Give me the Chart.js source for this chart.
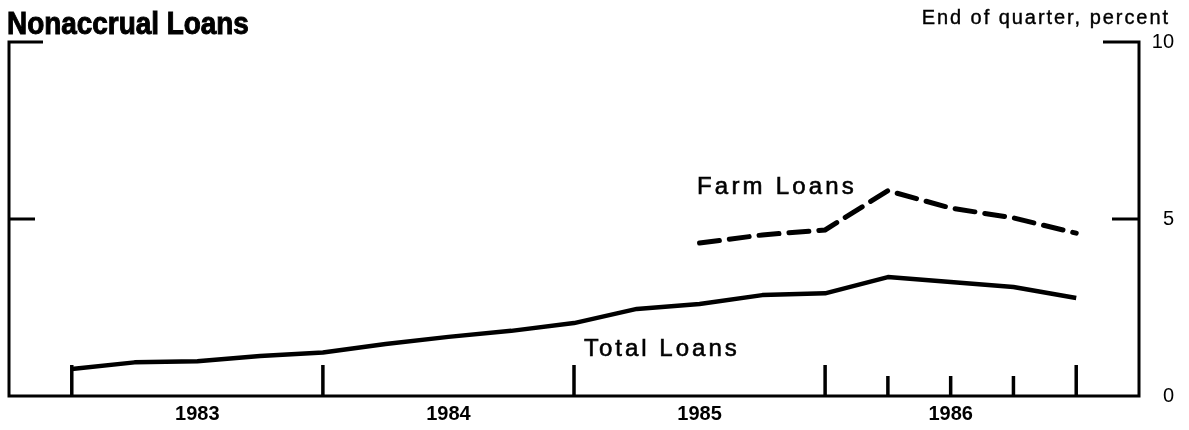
<!DOCTYPE html>
<html>
<head>
<meta charset="utf-8">
<script src="https://cdn.jsdelivr.net/npm/chart.js@4.4.1/dist/chart.umd.min.js"></script>
<style>
  html, body { margin: 0; padding: 0; background: #fff; }
  #wrap { position: relative; width: 1189px; height: 430px; overflow: hidden; }
  #wrap canvas { position: absolute; left: 0; top: 0; }
  .txt { position: absolute; white-space: nowrap; color: #000; line-height: 1; }
  #title { left: 7px; top: 6px; font: bold 31px "Liberation Sans", Arial, sans-serif; transform: scaleX(0.9); transform-origin: left top; -webkit-text-stroke: 1px #000; }
  #unit { right: 19px; top: 6px; font: 20px "Liberation Sans", Arial, sans-serif; letter-spacing: 1.95px; -webkit-text-stroke: 0.4px #000; }
  #farm { left: 697px; top: 172px; font: 24px "Liberation Sans", Arial, sans-serif; letter-spacing: 3.2px; -webkit-text-stroke: 0.6px #000; }
  #total { left: 584px; top: 334px; font: 24px "Liberation Sans", Arial, sans-serif; letter-spacing: 3px; -webkit-text-stroke: 0.6px #000; }
</style>
</head>
<body>
<div id="wrap">
  <canvas id="c" width="1189" height="430"></canvas>
  <div class="txt" id="title">Nonaccrual Loans</div>
  <div class="txt" id="unit">End of quarter, percent</div>
  <div class="txt" id="farm">Farm Loans</div>
  <div class="txt" id="total">Total Loans</div>
</div>
<script>
// ---- data ----
const quarterLabels = ['1982 Q4',
  '1983 Q1','1983 Q2','1983 Q3','1983 Q4',
  '1984 Q1','1984 Q2','1984 Q3','1984 Q4',
  '1985 Q1','1985 Q2','1985 Q3','1985 Q4',
  '1986 Q1','1986 Q2','1986 Q3','1986 Q4'];
const totalLoans = [0.76,
  0.95, 0.98, 1.13, 1.23,
  1.47, 1.67, 1.84, 2.06,
  2.46, 2.60, 2.85, 2.90,
  3.36, 3.22, 3.08, 2.77];
const farmLoans = [null,
  null, null, null, null,
  null, null, null, null,
  null, 4.32, 4.55, 4.69,
  5.80, 5.31, 5.03, 4.60];
const yearLabels = ['1983', '1984', '1985', '1986'];
const yearLabelQuarter = [2, 6, 10, 14];
const yTicks = [0, 5, 10];
const majorTickQuarters = [0, 4, 8, 12, 16];
const minorTickQuarters = [13, 14, 15];

// ---- chart ----
const toPoints = arr => arr.map((v, i) => ({ x: i, y: v }));

const framePlugin = {
  id: 'frame',
  beforeDatasetsDraw(chart) {
    const { ctx, chartArea: a, scales: { x, y } } = chart;
    const y0 = y.getPixelForValue(0), y5 = y.getPixelForValue(5), y10 = y.getPixelForValue(10);
    ctx.save();
    ctx.strokeStyle = '#000';
    ctx.lineWidth = 3;
    ctx.lineCap = 'butt';
    ctx.beginPath();
    ctx.moveTo(a.left + 34, y10); ctx.lineTo(a.left, y10); ctx.lineTo(a.left, y0);
    ctx.moveTo(a.left, y5); ctx.lineTo(a.left + 26, y5);
    ctx.moveTo(a.right - 36, y10); ctx.lineTo(a.right, y10); ctx.lineTo(a.right, y0);
    ctx.moveTo(a.right, y5); ctx.lineTo(a.right - 27, y5);
    ctx.moveTo(a.left - 1.5, y0); ctx.lineTo(a.right + 1.5, y0);
    ctx.stroke();
    ctx.lineWidth = 3.5;
    ctx.beginPath();
    majorTickQuarters.forEach(q => {
      const px = x.getPixelForValue(q);
      ctx.moveTo(px, y0); ctx.lineTo(px, y0 - 31);
    });
    minorTickQuarters.forEach(q => {
      const px = x.getPixelForValue(q);
      ctx.moveTo(px, y0); ctx.lineTo(px, y0 - 20);
    });
    ctx.stroke();
    ctx.restore();
  }
};

new Chart(document.getElementById('c'), {
  type: 'line',
  data: {
    labels: quarterLabels,
    datasets: [
      {
        label: 'Total Loans',
        data: toPoints(totalLoans),
        borderColor: '#000',
        borderWidth: 4.5,
        pointRadius: 0,
        tension: 0,
        borderCapStyle: 'butt',
        borderJoinStyle: 'round'
      },
      {
        label: 'Farm Loans',
        data: toPoints(farmLoans),
        borderColor: '#000',
        borderWidth: 5,
        borderDash: [20, 10],
        borderCapStyle: 'round',
        pointRadius: 0,
        tension: 0,
        spanGaps: false
      }
    ]
  },
  options: {
    responsive: false,
    animation: false,
    events: [],
    layout: { padding: { left: 9, top: 42, right: 15, bottom: 0 } },
    plugins: { legend: { display: false }, tooltip: { enabled: false }, title: { display: false } },
    scales: {
      x: {
        type: 'linear',
        min: -1,
        max: 17,
        position: 'bottom',
        grid: { display: false, drawTicks: false },
        border: { display: false },
        afterBuildTicks: axis => { axis.ticks = yearLabelQuarter.map(v => ({ value: v })); },
        afterFit: axis => { axis.height = 34; },
        ticks: {
          autoSkip: false,
          maxRotation: 0,
          padding: 6,
          color: '#000',
          font: { family: 'Liberation Sans', size: 20, weight: 'bold' },
          callback: v => {
            const i = yearLabelQuarter.indexOf(v);
            return i >= 0 ? yearLabels[i] : '';
          }
        }
      },
      y: {
        type: 'linear',
        position: 'right',
        min: 0,
        max: 10,
        grid: { display: false, drawTicks: false },
        border: { display: false },
        afterBuildTicks: axis => { axis.ticks = yTicks.map(v => ({ value: v })); },
        afterFit: axis => { axis.width = 35; },
        ticks: {
          crossAlign: 'far',
          padding: 10,
          color: '#000',
          font: { family: 'Liberation Sans', size: 20 }
        }
      }
    }
  },
  plugins: [framePlugin]
});
</script>
</body>
</html>
